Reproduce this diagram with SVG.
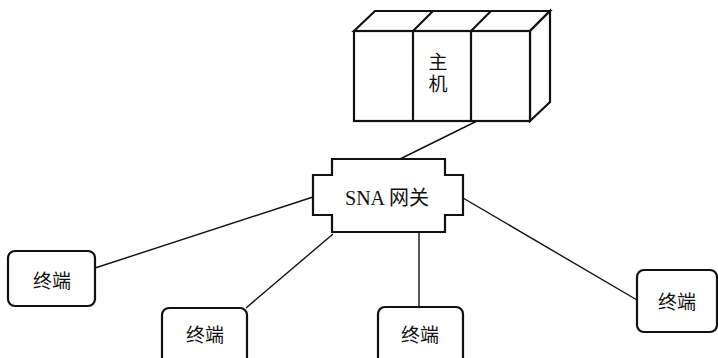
<svg xmlns="http://www.w3.org/2000/svg" width="718" height="358" viewBox="0 0 718 358">
  <style>
    .box { fill: #ffffff; stroke: #111111; stroke-width: 2.2; stroke-linejoin: miter; }
    .edge { fill: none; stroke: #111111; stroke-width: 1.4; }
    .label { font-family: "Noto Sans CJK SC", "Noto Sans", sans-serif; font-size: 19px; fill: #111111; text-anchor: middle; dominant-baseline: central; }
    .vlabel { font-family: "Noto Sans CJK SC", "Noto Sans", sans-serif; font-size: 19px; fill: #111111; writing-mode: vertical-rl; text-anchor: middle; letter-spacing: 3px; }
    .gw { font-family: "Liberation Serif", "Noto Sans CJK SC", serif; font-size: 20px; fill: #111111; text-anchor: middle; dominant-baseline: central; }
  </style>
  <rect width="718" height="358" fill="#ffffff"/>

  <g id="connectors">
    <line class="edge" x1="477" y1="121" x2="400" y2="159"/>
    <line class="edge" x1="313" y1="197" x2="95" y2="268"/>
    <line class="edge" x1="333" y1="234" x2="246" y2="308"/>
    <line class="edge" x1="419" y1="232" x2="419" y2="307"/>
    <line class="edge" x1="463" y1="198" x2="637" y2="300"/>
  </g>

  <g id="host">
    <!-- cabinet: three front panels with top and side faces -->
    <polygon class="box" points="354,31 375,11 550,11 530,31"/>
    <polygon class="box" points="530,31 550,11 550,102 530,121"/>
    <rect class="box" x="354" y="31" width="176" height="90"/>
    <line class="box" x1="413" y1="31" x2="413" y2="121"/>
    <line class="box" x1="471" y1="31" x2="471" y2="121"/>
    <line class="box" x1="413" y1="31" x2="433" y2="11"/>
    <line class="box" x1="471" y1="31" x2="491" y2="11"/>
    <text class="vlabel" x="438" y="74">主机</text>
  </g>

  <g id="gateway">
    <polygon class="box" points="332,159 445,159 445,175 463,175 463,215 445,215 445,232 332,232 332,215 313,215 313,175 332,175"/>
    <text class="gw" x="387" y="198">SNA 网关</text>
  </g>

  <g id="terminal1">
    <rect class="box" x="8" y="251" width="87" height="55" rx="7"/>
    <text class="label" x="52" y="279">终端</text>
  </g>

  <g id="terminal2">
    <rect class="box" x="162" y="308" width="85" height="60" rx="7"/>
    <text class="label" x="205" y="333">终端</text>
  </g>

  <g id="terminal3">
    <rect class="box" x="378" y="307" width="85" height="60" rx="7"/>
    <text class="label" x="420" y="333">终端</text>
  </g>

  <g id="terminal4">
    <rect class="box" x="637" y="270" width="80" height="62" rx="7"/>
    <text class="label" x="677" y="300">终端</text>
  </g>
</svg>
